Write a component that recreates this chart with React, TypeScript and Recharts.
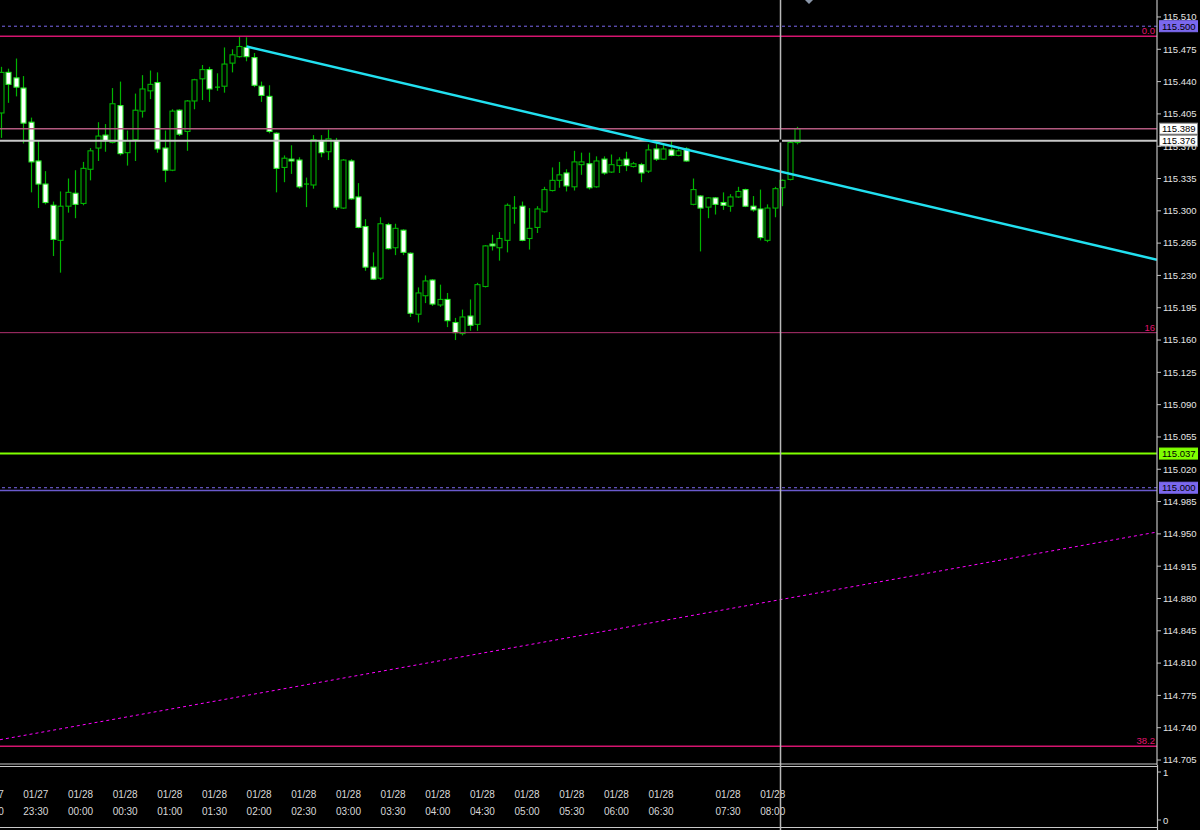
import React from "react";
import { ComposedChart, Bar, XAxis, YAxis, ReferenceLine } from "recharts";

// 5-minute candles (bar 0 = 01/27 23:15)
const opens = [
  115.406, 115.45, 115.444, 115.433, 115.396, 115.354, 115.329, 115.306, 115.268, 115.305,
  115.319, 115.308, 115.345, 115.368, 115.382, 115.374, 115.414, 115.363, 115.377, 115.408,
  115.43, 115.439, 115.368, 115.344, 115.409, 115.386, 115.419, 115.443, 115.453, 115.434,
  115.435, 115.46, 115.467, 115.477, 115.466, 115.435, 115.424, 115.384, 115.347, 115.356,
  115.355, 115.329, 115.328, 115.376, 115.364, 115.376, 115.303, 115.354, 115.315, 115.283,
  115.239, 115.227, 115.285, 115.26, 115.279, 115.254, 115.188, 115.208, 115.225, 115.198,
  115.204, 115.179, 115.167, 115.186, 115.177, 115.218, 115.264, 115.26, 115.268, 115.303,
  115.305, 115.27, 115.282, 115.299, 115.322, 115.333, 115.341, 115.326, 115.35, 115.351,
  115.326, 115.356, 115.342, 115.349, 115.356, 115.348, 115.35, 115.343, 115.367, 115.356,
  115.366, 115.36, 115.367, 115.307, 115.316, 115.304, 115.314, 115.309, 115.305, 115.315,
  115.323, 115.305, 115.302, 115.268, 115.303, 115.325, 115.334, 115.374,
];
const highs = [
  115.456, 115.454, 115.465, 115.446, 115.401, 115.376, 115.343, 115.31, 115.321, 115.335,
  115.344, 115.353, 115.368, 115.396, 115.394, 115.433, 115.44, 115.387, 115.427, 115.447,
  115.452, 115.45, 115.387, 115.41, 115.41, 115.42, 115.443, 115.458, 115.456, 115.449,
  115.477, 115.475, 115.489, 115.488, 115.471, 115.44, 115.436, 115.385, 115.36, 115.371,
  115.358, 115.336, 115.382, 115.382, 115.388, 115.379, 115.356, 115.356, 115.33, 115.291,
  115.255, 115.293, 115.287, 115.286, 115.28, 115.255, 115.217, 115.23, 115.226, 115.22,
  115.211, 115.184, 115.193, 115.204, 115.222, 115.263, 115.274, 115.277, 115.308, 115.316,
  115.31, 115.303, 115.305, 115.326, 115.347, 115.353, 115.345, 115.365, 115.363, 115.363,
  115.359, 115.359, 115.361, 115.358, 115.364, 115.353, 115.352, 115.372, 115.373, 115.372,
  115.376, 115.368, 115.369, 115.335, 115.317, 115.315, 115.315, 115.32, 115.318, 115.326,
  115.324, 115.316, 115.323, 115.307, 115.326, 115.334, 115.376, 115.391,
];
const lows = [
  115.379, 115.417, 115.424, 115.373, 115.32, 115.303, 115.307, 115.251, 115.233, 115.298,
  115.292, 115.306, 115.333, 115.354, 115.364, 115.373, 115.36, 115.349, 115.354, 115.401,
  115.421, 115.363, 115.331, 115.343, 115.381, 115.365, 115.41, 115.42, 115.418, 115.43,
  115.428, 115.45, 115.466, 115.462, 115.434, 115.418, 115.384, 115.32, 115.331, 115.34,
  115.324, 115.304, 115.324, 115.358, 115.355, 115.301, 115.302, 115.312, 115.281, 115.235,
  115.225, 115.225, 115.258, 115.252, 115.252, 115.185, 115.179, 115.2, 115.197, 115.196,
  115.174, 115.16, 115.165, 115.17, 115.17, 115.217, 115.257, 115.246, 115.255, 115.286,
  115.267, 115.258, 115.276, 115.298, 115.321, 115.325, 115.321, 115.322, 115.339, 115.323,
  115.325, 115.339, 115.341, 115.341, 115.343, 115.347, 115.331, 115.341, 115.354, 115.355,
  115.359, 115.359, 115.353, 115.306, 115.256, 115.292, 115.296, 115.301, 115.299, 115.314,
  115.304, 115.299, 115.268, 115.266, 115.293, 115.305, 115.333, 115.372,
];
const closes = [
  115.45, 115.437, 115.434, 115.395, 115.353, 115.329, 115.309, 115.269, 115.305, 115.32,
  115.307, 115.346, 115.365, 115.381, 115.376, 115.416, 115.362, 115.376, 115.409, 115.432,
  115.437, 115.367, 115.344, 115.408, 115.383, 115.419, 115.442, 115.453, 115.432, 115.434,
  115.459, 115.469, 115.478, 115.467, 115.436, 115.425, 115.386, 115.346, 115.357, 115.354,
  115.326, 115.329, 115.377, 115.363, 115.378, 115.304, 115.355, 115.313, 115.282, 115.239,
  115.226, 115.286, 115.259, 115.281, 115.255, 115.189, 115.211, 115.224, 115.199, 115.204,
  115.181, 115.168, 115.185, 115.176, 115.22, 115.262, 115.262, 115.27, 115.306, 115.303,
  115.268, 115.281, 115.302, 115.323, 115.333, 115.339, 115.327, 115.353, 115.353, 115.325,
  115.354, 115.341, 115.35, 115.355, 115.349, 115.351, 115.341, 115.366, 115.356, 115.367,
  115.36, 115.365, 115.354, 115.323, 115.303, 115.314, 115.307, 115.306, 115.315, 115.321,
  115.305, 115.301, 115.271, 115.303, 115.324, 115.333, 115.374, 115.389,
];

// time scale labels (bar index, date, time)
const tickBars = [-3, 3, 9, 15, 21, 27, 33, 39, 45, 51, 57, 63, 69, 75, 81, 87, 96, 102];
const tickDates = [
  "01/27", "01/27", "01/28", "01/28", "01/28", "01/28", "01/28", "01/28", "01/28",
  "01/28", "01/28", "01/28", "01/28", "01/28", "01/28", "01/28", "01/28", "01/28",
];
const tickTimes = [
  "23:00", "23:30", "00:00", "00:30", "01:00", "01:30", "02:00", "02:30", "03:00",
  "03:30", "04:00", "04:30", "05:00", "05:30", "06:00", "06:30", "07:30", "08:00",
];

const priceTicks = [
  115.51, 115.475, 115.44, 115.405, 115.37, 115.335, 115.3, 115.265, 115.23, 115.195,
  115.16, 115.125, 115.09, 115.055, 115.02, 114.985, 114.95, 114.915, 114.88, 114.845,
  114.81, 114.775, 114.74, 114.705,
];

// drawn objects
const trendCyan = [
  { x: 33, y: 115.478 },
  { x: 155.31, y: 115.247 },
];
const trendMagenta = [
  { x: -0.134, y: 114.727 },
  { x: 155.31, y: 114.952 },
];
const crossBar = 104.73;

const X_DOMAIN = [-0.134, 155.31];
const Y_DOMAIN = [114.6996, 115.5284];
const FONT = "Liberation Sans, Arial, sans-serif";

const data = opens.map((o, i) => ({
  i,
  open: o,
  high: highs[i],
  low: lows[i],
  close: closes[i],
}));

function Candle(props: any) {
  const { x, y, width, height, payload } = props;
  const { open, close, high, low } = payload;
  const cx = Math.round(x + width / 2) + 0.5;
  const k = height / (high - low || 1);
  const yOf = (v: number) => y + (high - v) * k;
  const top = yOf(Math.max(open, close));
  const bot = yOf(Math.min(open, close));
  const up = close >= open;
  return (
    <g>
      <line x1={cx} x2={cx} y1={y} y2={y + height} stroke="#00b400" strokeWidth={1.2} />
      {bot - top < 1.2 ? (
        <line x1={cx - 2.5} x2={cx + 2.5} y1={top} y2={top} stroke="#00c800" strokeWidth={1.2} />
      ) : (
        <rect
          x={cx - 2.5}
          y={top}
          width={5}
          height={bot - top}
          fill={up ? "#000" : "#fff"}
          stroke={up ? "#00b400" : "#2cf02c"}
          strokeWidth={1.1}
        />
      )}
    </g>
  );
}

function TimeTick(props: any) {
  const { x, y, payload } = props;
  const k = tickBars.indexOf(payload.value);
  return (
    <g fontFamily={FONT} fontSize={10} fill="#d8d8d8">
      <text x={x} y={y + 33}>{tickDates[k]}</text>
      <text x={x} y={y + 50}>{tickTimes[k]}</text>
    </g>
  );
}

const priceTag = (text: string, bg: string, border?: string) => (p: any) => {
  const vb = p.viewBox;
  const yy = vb.y;
  return (
    <g>
      <rect x={1159.5} y={yy - 5.5} width={38} height={11} fill={bg} stroke={border || bg} strokeWidth={1} />
      <text x={1162} y={yy + 3.5} fontFamily={FONT} fontSize={9.5} fill="#000">
        {text}
      </text>
    </g>
  );
};

const fibText = (text: string) => (p: any) => {
  const vb = p.viewBox;
  return (
    <text x={vb.x + vb.width - 2} y={vb.y - 2} textAnchor="end" fontFamily={FONT} fontSize={9.5} fill="#e0146e">
      {text}
    </text>
  );
};

export default function App() {
  return (
    <div style={{ position: "absolute", left: 0, top: 0, width: 1200, height: 830, background: "#000" }}>
      <ComposedChart width={1200} height={830} data={data} margin={{ top: 0, right: 0, bottom: 0, left: 0 }}>
        <XAxis
          dataKey="i"
          type="number"
          domain={X_DOMAIN}
          allowDataOverflow
          ticks={tickBars}
          interval={0}
          tick={<TimeTick />}
          tickLine={false}
          axisLine={false}
          tickSize={0}
          tickMargin={0}
          height={65}
        />
        <YAxis
          orientation="right"
          type="number"
          domain={Y_DOMAIN}
          allowDataOverflow
          ticks={priceTicks}
          interval={0}
          width={43}
          tickFormatter={(v: number) => v.toFixed(3)}
          tick={{ fill: "#e4e4e4", fontSize: 9.5, fontFamily: FONT }}
          tickSize={4}
          tickMargin={2}
          stroke="#c0c0c0"
          axisLine={{ stroke: "#c0c0c0", strokeWidth: 1.2 }}
          tickLine={{ stroke: "#c0c0c0" }}
        />
        <Bar
          dataKey={(d: any) => [d.low, d.high]}
          barSize={5}
          shape={<Candle />}
          isAnimationActive={false}
        />
        <ReferenceLine y={115.5} stroke="#7b68ee" strokeDasharray="3 3" label={priceTag("115.500", "#7b68ee")} />
        <ReferenceLine y={115.489} stroke="#d4146e" strokeWidth={1.5} label={fibText("0.0")} />
        <ReferenceLine y={115.389} stroke="#b45a80" strokeWidth={1.5} label={priceTag("115.389", "#fff", "#888")} />
        <ReferenceLine y={115.376} stroke="#c8c8c8" strokeWidth={2} label={priceTag("115.376", "#fff", "#888")} />
        <ReferenceLine y={115.168} stroke="#b0306f" strokeWidth={1} label={fibText("16")} />
        <ReferenceLine y={115.037} stroke="#7fff00" strokeWidth={2} label={priceTag("115.037", "#7fff00")} />
        <ReferenceLine y={115.0} stroke="#7b68ee" strokeDasharray="3 3" label={priceTag("115.000", "#7b68ee")} />
        <ReferenceLine y={114.997} stroke="#6a5acd" strokeWidth={1.5} />
        <ReferenceLine y={114.72} stroke="#d4146e" strokeWidth={1.5} label={fibText("38.2")} />
        <ReferenceLine segment={trendMagenta} stroke="#ff00ff" strokeDasharray="3 3" ifOverflow="hidden" />
        <ReferenceLine segment={trendCyan} stroke="#22e0f0" strokeWidth={2.5} ifOverflow="hidden" />
        <ReferenceLine x={crossBar} stroke="#b8b8b8" strokeWidth={1.5} />
      </ComposedChart>
      <svg
        width={1200}
        height={830}
        style={{ position: "absolute", left: 0, top: 0, pointerEvents: "none" }}
      >
        <line x1={0} x2={1157} y1={764} y2={764} stroke="#c8c8c8" strokeWidth={1} />
        <line x1={0} x2={1157} y1={766.5} y2={766.5} stroke="#c8c8c8" strokeWidth={1} />
        <line x1={0} x2={1157} y1={827.5} y2={827.5} stroke="#c8c8c8" strokeWidth={1} />
        <line x1={1157.5} x2={1157.5} y1={765} y2={830} stroke="#c0c0c0" strokeWidth={1.2} />
        <line x1={780.5} x2={780.5} y1={765} y2={830} stroke="#b8b8b8" strokeWidth={1.5} />
        <rect x={779} y={139.5} width={3} height={3} fill="#000" />
        <polygon points="805,0 813,0 809,4" fill="#8a96a8" />
        <line x1={1157} x2={1161} y1={772} y2={772} stroke="#c0c0c0" />
        <line x1={1157} x2={1161} y1={820} y2={820} stroke="#c0c0c0" />
        <text x={1163} y={776} fontFamily={FONT} fontSize={9.5} fill="#e4e4e4">1</text>
        <text x={1163} y={824} fontFamily={FONT} fontSize={9.5} fill="#e4e4e4">0</text>
      </svg>
    </div>
  );
}
